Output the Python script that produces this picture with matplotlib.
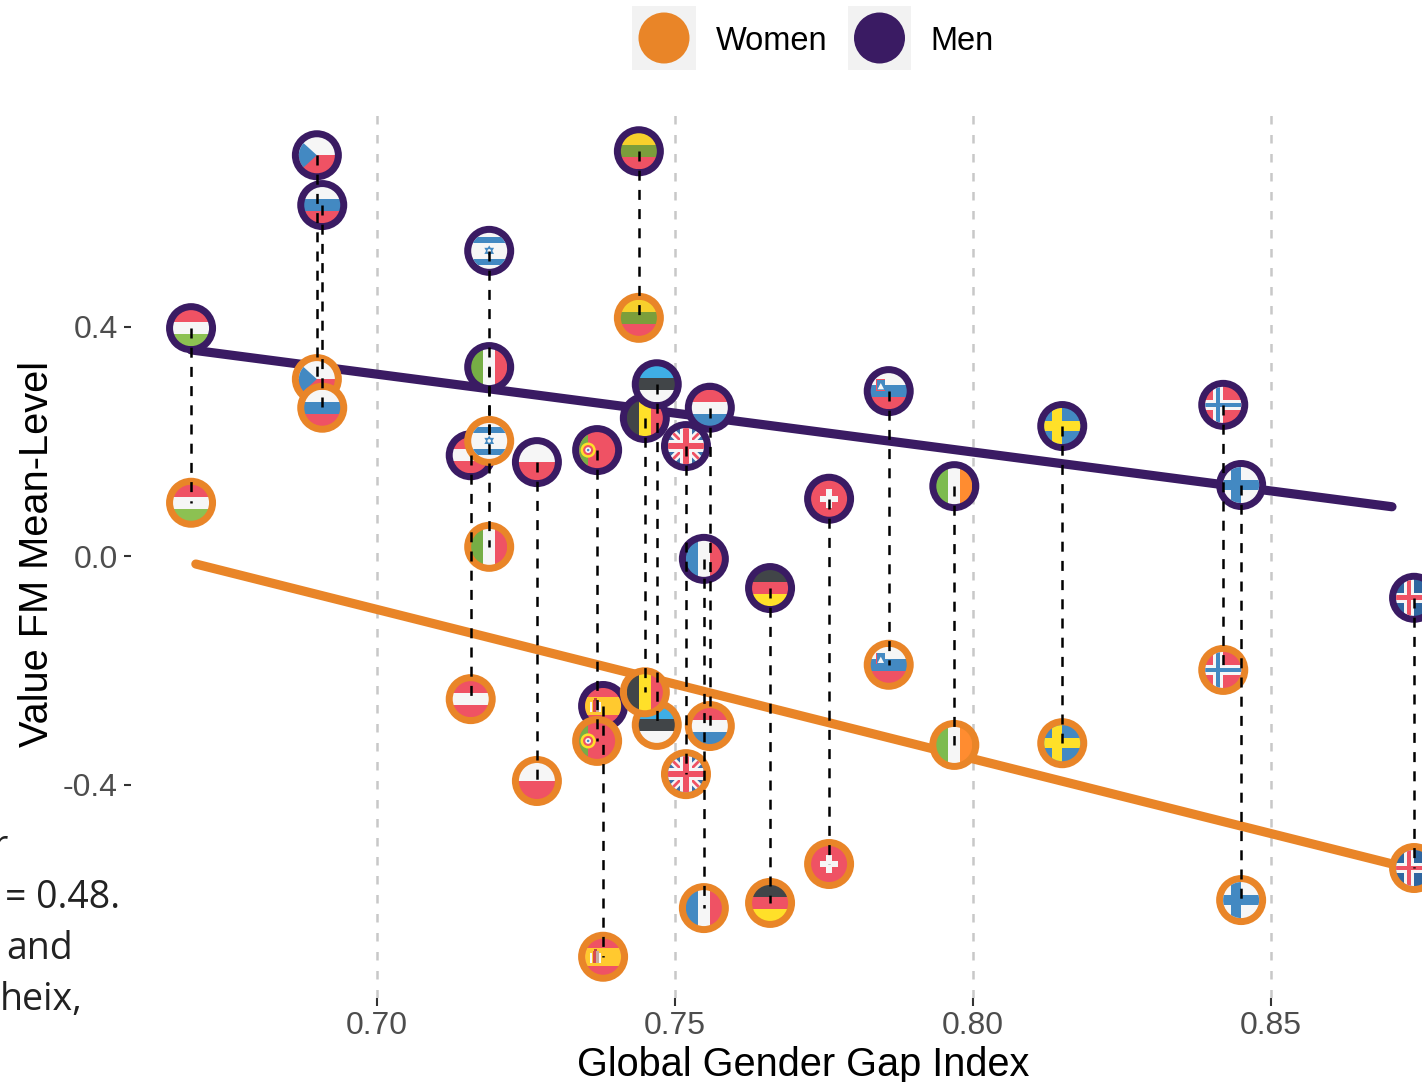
import numpy as np
import matplotlib
matplotlib.use("Agg")
import matplotlib.pyplot as plt
from matplotlib.patches import Circle, Polygon, Rectangle
from matplotlib.transforms import Affine2D

plt.rcParams['font.family'] = ['Liberation Sans', 'DejaVu Sans']

countries = ["Hungary", "Czechia", "Russia", "Israel", "Italy", "Austria", "Poland",
             "Portugal", "Spain", "Lithuania", "Belgium", "Estonia", "Netherlands", "UK",
             "France", "Germany", "Switzerland", "Slovenia", "Ireland", "Sweden",
             "Norway", "Finland", "Iceland"]
gap_index = [0.6689, 0.6900, 0.6909, 0.7189, 0.7189, 0.7158, 0.7269,
             0.7370, 0.7380, 0.7440, 0.7450, 0.7470, 0.7559, 0.7519,
             0.7549, 0.7660, 0.7759, 0.7859, 0.7969, 0.8150,
             0.8420, 0.8450, 0.8740]
women = [0.093, 0.309, 0.259, 0.201, 0.016, -0.250, -0.393,
         -0.323, -0.700, 0.416, -0.238, -0.295, -0.297, -0.381,
         -0.615, -0.606, -0.538, -0.190, -0.330, -0.327,
         -0.199, -0.601, -0.545]
men = [0.398, 0.700, 0.613, 0.533, 0.330, 0.176, 0.164,
       0.185, -0.262, 0.707, 0.241, 0.300, 0.259, 0.192,
       -0.005, -0.056, 0.100, 0.288, 0.122, 0.227,
       0.264, 0.124, -0.073]

men_fit_x = [0.6689, 0.8703]
men_fit_y = [0.360, 0.086]
women_fit_x = [0.6697, 0.8742]
women_fit_y = [-0.014, -0.548]

x_ticks = [0.70, 0.75, 0.80, 0.85]
y_ticks = [-0.4, 0.0, 0.4]

ORANGE = "#E98528"
PURPLE = "#3A1B63"
RED = "#EF5264"
BLUE = "#4389C2"
WHITE = "#F6F6F6"
DARK = "#414548"
YELLOW = "#FFE029"
GREEN = "#76AE45"

# stripes top to bottom, or left to right
H_FLAGS = {
    "Hungary": [RED, WHITE, "#8CC152"],
    "Russia": [WHITE, BLUE, RED],
    "Austria": [RED, WHITE, RED],
    "Poland": [WHITE, RED],
    "Lithuania": ["#F7D02C", "#7B9E3B", RED],
    "Estonia": ["#3FAEE5", DARK, WHITE],
    "Netherlands": [RED, WHITE, BLUE],
    "Germany": [DARK, RED, YELLOW],
    "Slovenia": [WHITE, BLUE, RED],
}
V_FLAGS = {
    "Italy": [GREEN, WHITE, RED],
    "Belgium": [DARK, YELLOW, RED],
    "France": [BLUE, WHITE, RED],
    "Ireland": ["#7DBB4E", WHITE, "#FF8C30"],
}
# background, cross, inner cross
CROSS_FLAGS = {
    "Sweden": (BLUE, YELLOW, None),
    "Finland": (WHITE, BLUE, None),
    "Norway": (RED, WHITE, BLUE),
    "Iceland": ("#2F66A0", WHITE, RED),
}


def rect(ax, tr, clip, u0, v0, u1, v1, color, z):
    p = Rectangle((u0, v0), u1 - u0, v1 - v0, transform=tr, facecolor=color,
                  linewidth=0, zorder=z)
    ax.add_patch(p)
    p.set_clip_path(clip)


def poly(ax, tr, clip, pts, color, z):
    p = Polygon(pts, closed=True, transform=tr, facecolor=color, linewidth=0, zorder=z)
    ax.add_patch(p)
    p.set_clip_path(clip)


def dot(ax, tr, clip, u, v, r, color, z):
    p = Circle((u, v), r, transform=tr, facecolor=color, linewidth=0, zorder=z)
    ax.add_patch(p)
    p.set_clip_path(clip)


def diagonal(ax, tr, clip, sign, w, color, z):
    pts = [(-1.2, -1.2 * sign - w), (1.2, 1.2 * sign - w), (1.2, 1.2 * sign + w), (-1.2, -1.2 * sign + w)]
    poly(ax, tr, clip, pts, color, z)


def draw_flag(ax, tr, clip, name, z):
    if name in H_FLAGS:
        cols = H_FLAGS[name]
        cuts = np.linspace(1, -1, len(cols) + 1)
        for i, c in enumerate(cols):
            rect(ax, tr, clip, -1.1, cuts[i + 1], 1.1, cuts[i], c, z)
    elif name in V_FLAGS:
        cols = V_FLAGS[name]
        cuts = np.linspace(-1, 1, len(cols) + 1)
        for i, c in enumerate(cols):
            rect(ax, tr, clip, cuts[i], -1.1, cuts[i + 1], 1.1, c, z)
    elif name in CROSS_FLAGS:
        bg, cross, inner = CROSS_FLAGS[name]
        rect(ax, tr, clip, -1.1, -1.1, 1.1, 1.1, bg, z)
        rect(ax, tr, clip, -1.1, -0.27, 1.1, 0.27, cross, z)
        rect(ax, tr, clip, -0.55, -1.1, -0.03, 1.1, cross, z)
        if inner:
            rect(ax, tr, clip, -1.1, -0.13, 1.1, 0.13, inner, z)
            rect(ax, tr, clip, -0.4, -1.1, -0.17, 1.1, inner, z)
    elif name == "Czechia":
        rect(ax, tr, clip, -1.1, 0, 1.1, 1.1, WHITE, z)
        rect(ax, tr, clip, -1.1, -1.1, 1.1, 0, RED, z)
        poly(ax, tr, clip, [(-1.1, 1.0), (0, 0), (-1.1, -1.0)], BLUE, z)
    elif name == "Israel":
        rect(ax, tr, clip, -1.1, -1.1, 1.1, 1.1, WHITE, z)
        rect(ax, tr, clip, -1.1, 0.45, 1.1, 0.78, BLUE, z)
        rect(ax, tr, clip, -1.1, -0.78, 1.1, -0.45, BLUE, z)
        for s in (1, -1):
            poly(ax, tr, clip, [(0, 0.3 * s), (0.27, -0.17 * s), (-0.27, -0.17 * s)], BLUE, z)
        dot(ax, tr, clip, 0, 0, 0.1, WHITE, z)
    elif name == "Portugal":
        rect(ax, tr, clip, -1.1, -1.1, 1.1, 1.1, RED, z)
        rect(ax, tr, clip, -1.1, -1.1, -0.5, 1.1, GREEN, z)
        dot(ax, tr, clip, -0.5, 0, 0.42, YELLOW, z)
        dot(ax, tr, clip, -0.5, 0, 0.28, RED, z)
        dot(ax, tr, clip, -0.5, 0, 0.16, WHITE, z)
        dot(ax, tr, clip, -0.5, 0, 0.07, BLUE, z)
    elif name == "Spain":
        rect(ax, tr, clip, -1.1, -1.1, 1.1, 1.1, RED, z)
        rect(ax, tr, clip, -1.1, -0.5, 1.1, 0.5, "#FFC92F", z)
        rect(ax, tr, clip, -0.72, -0.32, -0.62, 0.22, WHITE, z)
        rect(ax, tr, clip, -0.2, -0.32, -0.1, 0.22, WHITE, z)
        rect(ax, tr, clip, -0.58, -0.35, -0.4, 0.32, "#D94B4B", z)
        rect(ax, tr, clip, -0.4, -0.35, -0.24, 0.32, "#C9A9A0", z)
        rect(ax, tr, clip, -0.5, 0.3, -0.32, 0.45, "#C0453F", z)
    elif name == "UK":
        rect(ax, tr, clip, -1.1, -1.1, 1.1, 1.1, "#3A6EA8", z)
        for s in (1, -1):
            diagonal(ax, tr, clip, s, 0.3, WHITE, z)
            diagonal(ax, tr, clip, s, 0.11, RED, z)
        rect(ax, tr, clip, -1.1, -0.32, 1.1, 0.32, WHITE, z)
        rect(ax, tr, clip, -0.32, -1.1, 0.32, 1.1, WHITE, z)
        rect(ax, tr, clip, -1.1, -0.18, 1.1, 0.18, RED, z)
        rect(ax, tr, clip, -0.18, -1.1, 0.18, 1.1, RED, z)
    elif name == "Switzerland":
        rect(ax, tr, clip, -1.1, -1.1, 1.1, 1.1, RED, z)
        rect(ax, tr, clip, -0.52, -0.18, 0.52, 0.18, WHITE, z)
        rect(ax, tr, clip, -0.18, -0.52, 0.18, 0.52, WHITE, z)
    if name == "Slovenia":
        rect(ax, tr, clip, -0.7, 0.02, -0.18, 0.68, RED, z)
        rect(ax, tr, clip, -0.65, 0.07, -0.23, 0.63, BLUE, z)
        poly(ax, tr, clip, [(-0.62, 0.1), (-0.44, 0.45), (-0.26, 0.1)], WHITE, z)


def draw_point(ax, x, y, name, ring_color, z):
    px, py = ax.transData.transform((x, y))
    tr = Affine2D().scale(18).translate(px, py)
    ring = Circle((0, 0), 25 / 18, transform=tr, facecolor=ring_color, linewidth=0,
                  zorder=z, clip_on=False)
    ax.add_patch(ring)
    clip = Circle((0, 0), 1, transform=tr)
    draw_flag(ax, tr, clip, name, z)


def main():
    fig = plt.figure(figsize=(14.22, 10.82), dpi=100)
    left, right, top, bottom = 131, 1422, 110, 998
    ax = fig.add_axes([left / 1422, 1 - bottom / 1082, (right - left) / 1422, (bottom - top) / 1082])
    ax.set_xlim(0.7 + (left - 376.5) / 5963, 0.7 + (right - 376.5) / 5963)
    ax.set_ylim((556 - bottom) / 572.5, (556 - top) / 572.5)
    ax.set_autoscale_on(False)
    for s in ax.spines.values():
        s.set_visible(False)

    ax.set_xticks(x_ticks, ["%.2f" % t for t in x_ticks])
    ax.set_yticks(y_ticks, ["%.1f" % t for t in y_ticks])
    ax.tick_params(axis='both', length=5.4, width=1.5, color="#333333",
                   labelsize=23, labelcolor="#4D4D4D")
    ax.tick_params(axis='x', pad=4)
    ax.tick_params(axis='y', pad=4)
    ax.xaxis.grid(True, color="#C8C8C8", linewidth=1.8, linestyle=(0, (3.4, 4.2)), zorder=1)
    ax.set_axisbelow(True)

    ax.plot(women_fit_x, women_fit_y, color=ORANGE, linewidth=6.6, solid_capstyle='round', zorder=2)
    ax.plot(men_fit_x, men_fit_y, color=PURPLE, linewidth=6.6, solid_capstyle='round', zorder=2)

    z = 3
    for name, x, y in zip(countries, gap_index, men):
        draw_point(ax, x, y, name, PURPLE, z)
        z += 1
    # Belgium sits over Estonia among the women, the other way round among the men
    order = [c for c in countries if c != "Belgium"]
    order.insert(order.index("Estonia") + 1, "Belgium")
    for name in order:
        i = countries.index(name)
        draw_point(ax, gap_index[i], women[i], name, ORANGE, z)
        z += 1

    # dashes start at the men's point and run down
    ax.vlines(gap_index, men, women, color="black", linewidth=1.8,
              linestyle=(0, (4.0, 3.68)), zorder=z, clip_on=False)

    ax.set_xlabel("Global Gender Gap Index", fontsize=28.6, color="black",
                  x=(803 - left) / (right - left), labelpad=3.5)
    ax.set_ylabel("Value FM Mean-Level", fontsize=28.6, color="black", labelpad=5)

    # overlay in pixels for the legend and the cut off text on the left
    over = fig.add_axes([0, 0, 1, 1], facecolor='none')
    over.set_xlim(0, 1422)
    over.set_ylim(1082, 0)
    over.axis('off')
    for x0, col, label, tx in [(632, ORANGE, "Women", 716), (847.5, PURPLE, "Men", 930)]:
        over.add_patch(Rectangle((x0, 6), 63.5, 63.5, facecolor="#F2F2F2", linewidth=0))
        over.add_patch(Circle((x0 + 32, 38), 25.5, facecolor=col, linewidth=0))
        over.text(tx, 50.5, label, fontsize=23.5, color="black", va='baseline')

    side = dict(family=['Open Sans', 'DejaVu Sans'], fontsize=27, color="#222222", va='baseline')
    over.text(8, 857, "r", ha='right', **side)
    over.text(5, 908, "= 0.48.", **side)
    over.text(6, 959, "and", **side)
    over.text(0, 1010, "heix,", **side)

    fig.savefig("out.png", dpi=100)


if __name__ == "__main__":
    main()
